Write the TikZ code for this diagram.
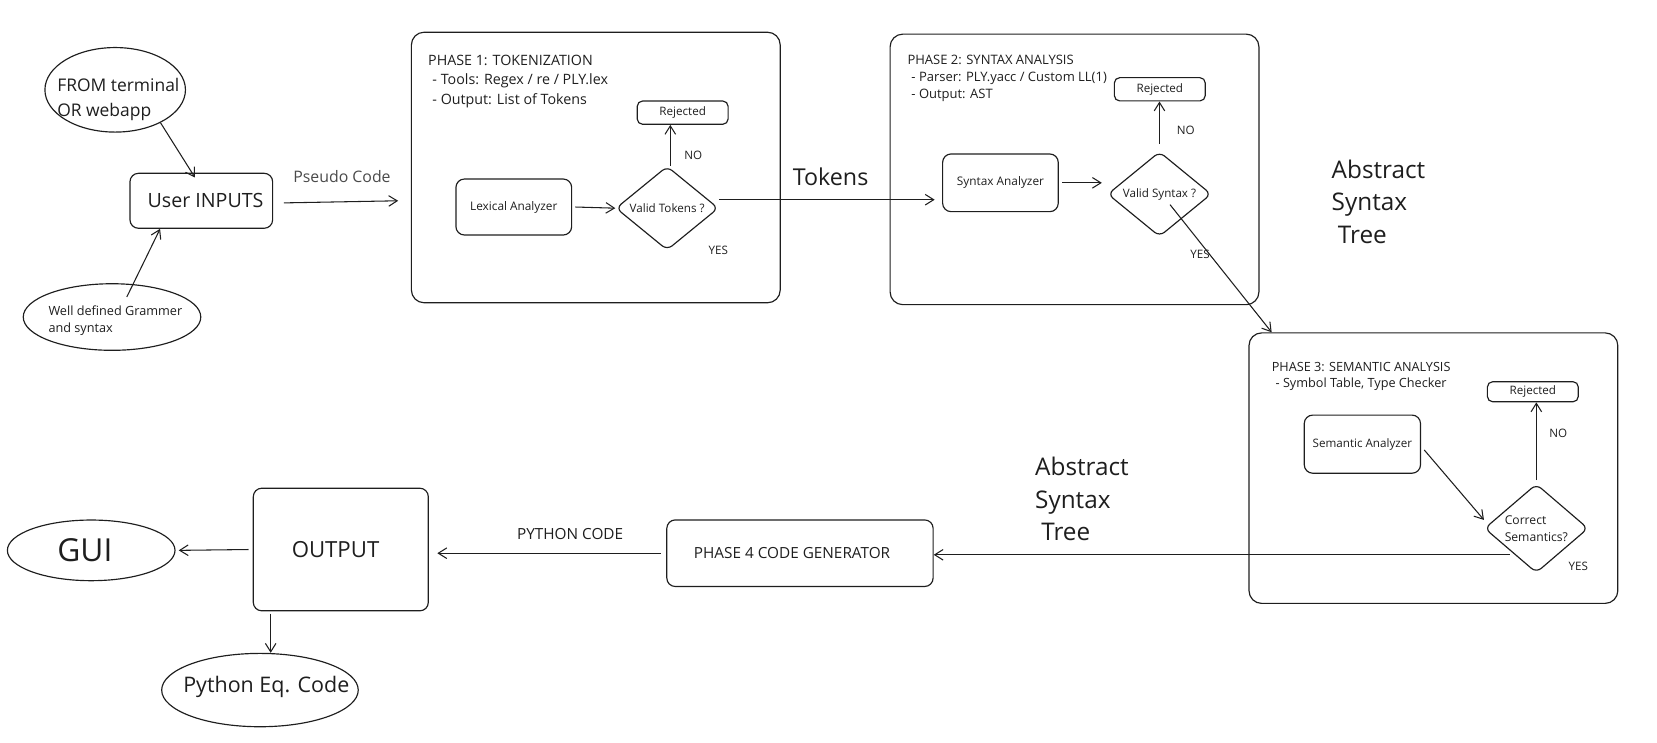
\documentclass[tikz,border=0pt]{standalone}
\usepackage{fontspec}
\setmainfont{Open Sans}
\usepackage{tikz}
\usetikzlibrary{positioning,shapes.geometric,arrows.meta}
\definecolor{ink}{HTML}{1E1E1E}
\definecolor{soft}{HTML}{4A4A4A}
\newcommand{\fz}[2]{\fontsize{#1}{#2}\selectfont}
\tikzset{
  box/.style={draw=ink, line width=1.1pt, rounded corners=8pt, inner sep=0pt, text=ink, font=\fz{11.2}{14}},
  phasebox/.style={draw=ink, line width=1.1pt, rounded corners=12pt, minimum width=349pt, minimum height=256pt},
  rejbox/.style={box, rounded corners=5pt, minimum width=86pt, minimum height=22pt, font=\fz{11}{13}},
  decision/.style={draw=ink, line width=1.1pt, diamond, rounded corners=6pt, inner sep=0pt, minimum width=98pt, minimum height=72pt, text=ink, font=\fz{11}{15.8}, align=left},
  oval/.style={draw=ink, line width=1.1pt, ellipse, inner sep=0pt, text=ink},
  arr/.style={draw=ink, line width=1pt, -{Straight Barb[length=8pt,width=10pt]}},
}

\begin{document}
\begin{tikzpicture}[x=1pt,y=-1pt]
\useasboundingbox (0,0) rectangle (1568,703);

%Shape: Ellipse
\node [oval, minimum width=133pt, minimum height=80pt] (src) at (109,85) {};
%Shape: Ellipse
\node [oval, minimum width=168pt, minimum height=63pt] (gram) at (106,300) {};
%Shape: Rectangle
\node [box, minimum width=135pt, minimum height=52pt, font=\fz{18.6}{22}] (inp) at (190.5,190) {\hspace*{8pt}User INPUTS};

%Shape: Rectangle
\node [phasebox] (p1) at (563.8,158.5) {};
\node [box, minimum width=109.5pt, minimum height=53pt] (lex) at (486.2,195.9) {Lexical Analyzer};
\node [decision, minimum width=97pt, minimum height=73pt] (dia1) at (631.3,197) {Valid Tokens ?};
\node [rejbox] (rej1) at (646,106.6) {Rejected};

%Shape: Rectangle
\node [phasebox] (p2) at (1016.8,160.3) {};
\node [box, minimum width=109.4pt, minimum height=54.6pt] (syn) at (946.7,173) {Syntax Analyzer};
\node [decision] (dia2) at (1097.2,183.7) {Valid Syntax ?};
\node [rejbox] (rej2) at (1097.5,84.5) {Rejected};

%Shape: Rectangle
\node [phasebox] (p3) at (1356.4,443) {};
\node [box, minimum width=110pt, minimum height=55pt, font=\fz{11}{14}] (sem) at (1289.2,420.3) {Semantic Analyzer};
\node [decision, font=\fz{11.5}{15.8}] (dia3) at (1453.8,500) {Correct\\Semantics?};
\node [rejbox, minimum height=19pt] (rej3) at (1450.5,370.7) {Rejected};

%Shape: Rectangle
\node [box, minimum width=252pt, minimum height=63pt, font=\fz{14.5}{17}] (gen) at (757,523.5) {PHASE 4 CODE GENERATOR\hspace*{15pt}};
\node [box, minimum width=165.6pt, minimum height=116pt, font=\fz{21}{24}] (out) at (322.5,520) {OUTPUT\hspace*{10pt}};
%Shape: Ellipse
\node [oval, minimum width=158.6pt, minimum height=57.4pt, font=\fz{30}{34}] (gui) at (86.3,520.8) {GUI\hspace*{12pt}};
\node [oval, minimum width=186pt, minimum height=69.4pt] (pyc) at (246,653) {};

%Straight Lines
\draw [arr] (src.-36) -- ([xshift=-6pt,yshift=-4.5pt]inp.north);
\draw [arr] ([xshift=14pt,yshift=19pt]gram.center) -- ([xshift=-39pt]inp.south);
\draw [arr] ([xshift=10pt,yshift=-2pt]inp.east) -- ([xshift=-12pt]p1.west |- inp.east);
\draw [arr] ([xshift=3pt]lex.east) -- (dia1.west);
\draw [arr] ([xshift=3pt]dia1.north) -- ([xshift=3pt]dia1.north |- rej1.south);
\draw [arr, shorten >=7pt] ([yshift=8pt]dia1.east) -- ([yshift=8pt]dia1.east -| syn.west);
\draw [arr] ([xshift=3pt]syn.east) -- ([xshift=-5pt]dia2.west |- syn.east);
\draw [arr] ([yshift=7pt]dia2.north) -- (dia2.north |- rej2.south);
\draw [arr] ([xshift=10pt,yshift=-10pt]dia2.center) -- ([xshift=22pt]p3.north west);
\draw [arr] ([xshift=3pt,yshift=-5.5pt]sem.east) -- ([yshift=8pt]dia3.west);
\draw [arr] ([yshift=3pt]dia3.north) -- (dia3.north |- rej3.south);
\draw [arr] ([xshift=-25pt,yshift=-25pt]dia3.center) -- ([yshift=-25pt]dia3.center -| gen.east);
\draw [arr] ([xshift=-5pt]gen.west) -- ([xshift=8pt]out.east |- gen.west);
\draw [arr] ([xshift=-4pt]out.west) -- ([xshift=3pt]gui.east);
\draw [arr] ([xshift=17pt,yshift=-2pt]out.south west) -- ([xshift=17pt]out.south west |- pyc.north);

% Text Node
\draw (54,94) node [anchor=west][inner sep=0pt][align=left][text=ink][font=\fz{16.5}{23.6}] (srctxt) {FROM terminal\\OR webapp};
% Text Node
\draw (45.7,303.5) node [anchor=west][inner sep=0pt][align=left][text=ink][font=\fz{12}{16.7}] (gramtxt) {Well defined Grammer\\and syntax};
% Text Node
\draw (252,650) node [inner sep=0pt][text=ink][font=\fz{20.3}{24}] (pyctxt) {Python Eq. Code};
% Text Node
\draw (323.6,167.2) node [inner sep=0.75pt][text=soft][font=\fz{15}{18}] (pslbl) {Pseudo Code};
% Text Node
\draw (405,77) node [anchor=west][inner sep=0pt][align=left][text=ink][font=\fz{13.5}{18.3}] (p1txt) {PHASE 1: TOKENIZATION\\\hspace{0.3em}- Tools: Regex / re / PLY.lex\\\hspace{0.3em}- Output: List of Tokens};
% Text Node
\draw (858.6,74) node [anchor=west][inner sep=0pt][align=left][text=ink][font=\fz{12.3}{15.8}] (p2txt) {PHASE 2: SYNTAX ANALYSIS\\\hspace{0.3em}- Parser: PLY.yacc / Custom LL(1)\\\hspace{0.3em}- Output: AST};
% Text Node
\draw (1203.3,356) node [anchor=west][inner sep=0pt][align=left][text=ink][font=\fz{12}{15.1}] (p3txt) {PHASE 3: SEMANTIC ANALYSIS\\\hspace{0.3em}- Symbol Table, Type Checker};
% Text Node
\draw (786,167) node [inner sep=0.75pt][text=ink][font=\fz{22}{26}] (toklbl) {Tokens};
% Text Node
\draw (656,146.7) node [inner sep=0.75pt][text=ink][font=\fz{11}{13}] (no1) {NO};
\draw (679.7,236.6) node [inner sep=0.75pt][text=ink][font=\fz{11}{13}] (yes1) {YES};
\draw (1122,123.7) node [inner sep=0.75pt][text=ink][font=\fz{11}{13}] (no2) {NO};
\draw (1135.5,240.4) node [inner sep=0.75pt][text=ink][font=\fz{11}{13}] (yes2) {YES};
\draw (1474.6,410) node [inner sep=0.75pt][text=ink][font=\fz{11}{13}] (no3) {NO};
\draw (1493.5,536.2) node [inner sep=0.75pt][text=ink][font=\fz{11}{13}] (yes3) {YES};
% Text Node
\draw (1260,191) node [anchor=west][inner sep=0pt][align=left][text=ink][font=\fz{23}{31}] (asttop) {Abstract\\Syntax\\\hspace{0.25em}Tree};
% Text Node
\draw (979.4,472.3) node [anchor=west][inner sep=0pt][align=left][text=ink][font=\fz{23}{31}] (astbot) {Abstract\\Syntax\\\hspace{0.25em}Tree};
% Text Node
\draw (539.5,505) node [inner sep=0.75pt][text=ink][font=\fz{14.5}{17}] (pylbl) {PYTHON CODE};
\end{tikzpicture}
\end{document}
